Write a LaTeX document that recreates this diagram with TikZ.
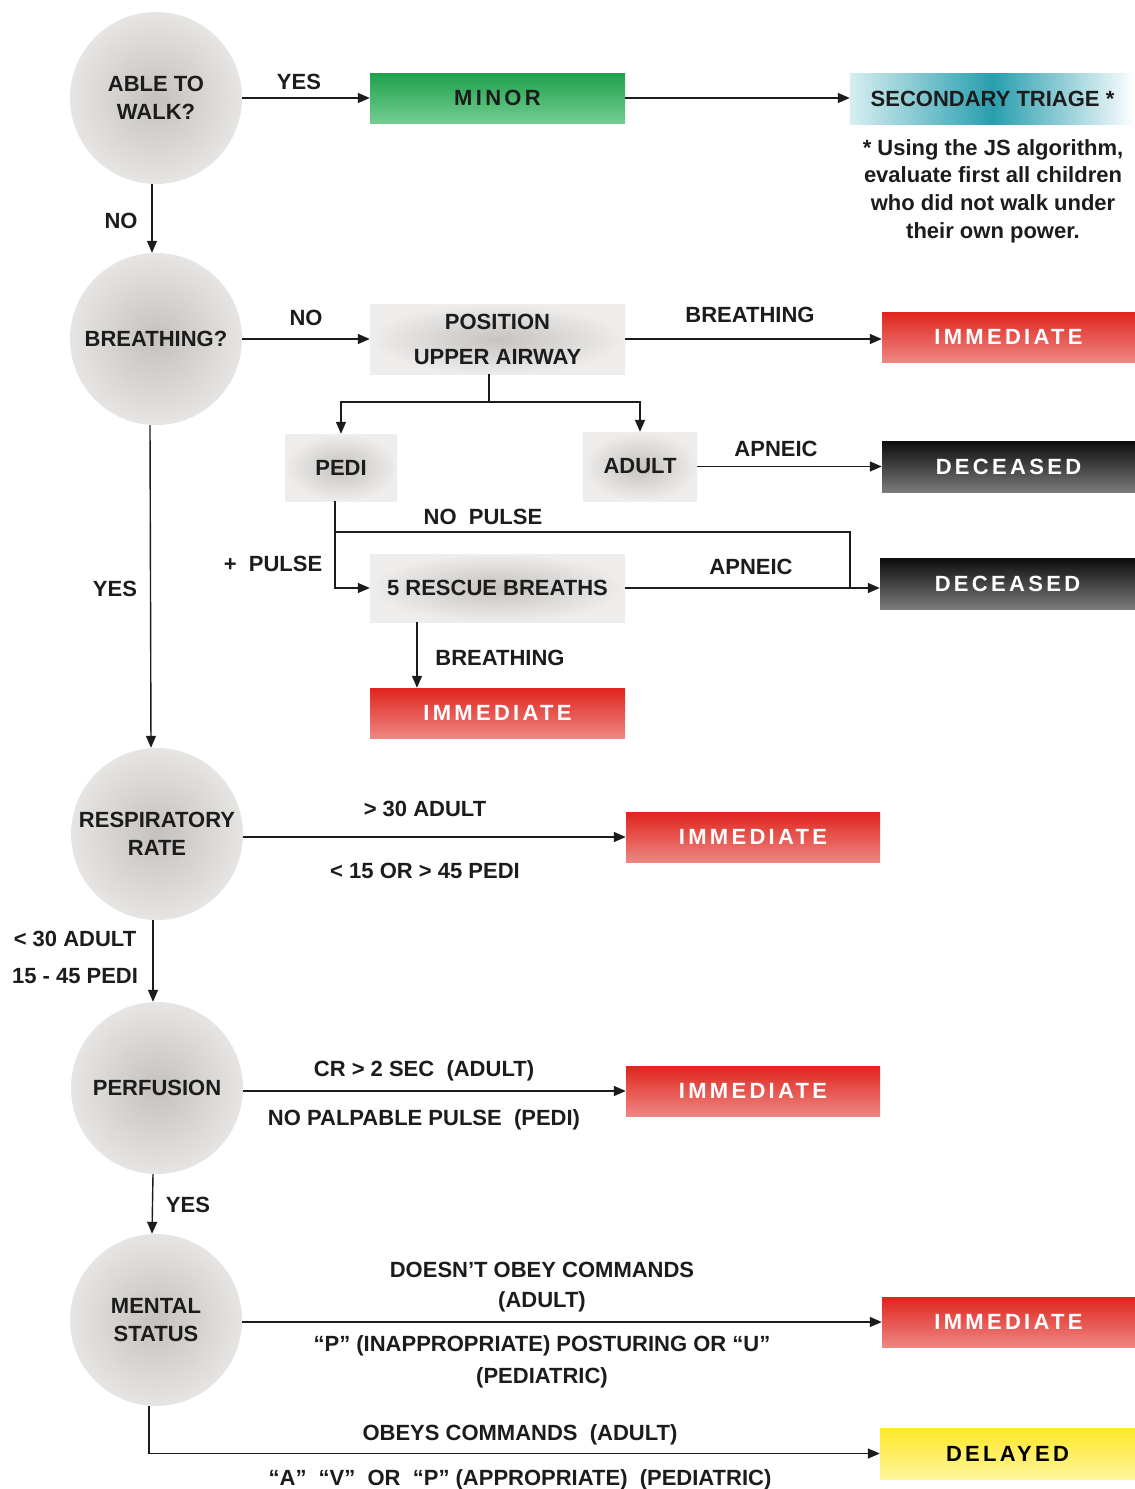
\documentclass[tikz,border=0pt]{standalone}
\usepackage{fontspec}
\setmainfont{Liberation Sans}
\newfontfamily\spacedfont{Liberation Sans}[LetterSpace=15]
\usetikzlibrary{arrows.meta}
\definecolor{txt}{HTML}{1C1C1C}
\definecolor{circin}{RGB}{196,193,190}
\definecolor{circout}{RGB}{231,229,227}
\definecolor{boxin}{RGB}{198,195,192}
\definecolor{boxout}{RGB}{238,237,236}
\definecolor{greentop}{RGB}{30,160,75}
\definecolor{greenbot}{RGB}{115,205,145}
\definecolor{redtop}{RGB}{224,36,30}
\definecolor{redbot}{RGB}{238,135,130}
\definecolor{blacktop}{RGB}{12,12,12}
\definecolor{blackbot}{RGB}{122,122,122}
\definecolor{yeltop}{RGB}{255,232,40}
\definecolor{yelbot}{RGB}{255,245,155}
\definecolor{tealmid}{RGB}{40,158,175}
\definecolor{tealside}{RGB}{215,238,241}
\begin{document}
\begin{tikzpicture}[x=1pt,y=-1pt,
  every node/.append style={text=txt, font=\fontsize{22}{27.5}\selectfont\bfseries},
  circnode/.style={circle, minimum size=172pt, inner sep=0pt, align=center,
    inner color=circin, outer color=circout},
  softbox/.style={rectangle, inner sep=0pt, align=center,
    inner color=boxin, outer color=boxout},
  tag/.style={rectangle, inner sep=0pt, minimum width=254pt, minimum height=50pt,
    font=\spacedfont\fontsize{22}{26}\selectfont\bfseries},
  immbox/.style={tag, top color=redtop, bottom color=redbot, text=white},
  deadbox/.style={tag, minimum height=51pt, top color=blacktop, bottom color=blackbot, text=white},
  minorbox/.style={tag, minimum width=255pt, top color=greentop, bottom color=greenbot},
  delaybox/.style={tag, minimum width=255pt, minimum height=51pt, top color=yeltop, bottom color=yelbot, text=black},
  secbox/.style={rectangle, inner sep=0pt, minimum width=285pt, minimum height=51pt,
    left color=tealside, right color=white, middle color=tealmid},
  notebox/.style={inner sep=0pt, align=center, font=\fontsize{22}{27.7}\selectfont\bfseries},
  lbl/.style={inner sep=0pt, text height=16pt, text depth=0pt},
  arr/.style={-{Triangle[length=12pt,width=10pt]}, line width=1.4pt, draw=txt},
  ln/.style={line width=1.4pt, draw=txt}]
\useasboundingbox (0,0) rectangle (1135,1489);

% decision circles
\node[circnode] (walk) at (156,98) {ABLE TO\\WALK?};
\node[circnode] (breath) at (156,339) {BREATHING?};
\node[circnode] (resp) at (157,834) {RESPIRATORY\\RATE};
\node[circnode] (perf) at (157,1088) {PERFUSION};
\node[circnode] (mental) at (156,1320) {MENTAL\\STATUS};

% boxes
\node[minorbox] (minor) at (497.5,98) {MINOR};
\node[secbox] (sec) at (992.5,98.5) {SECONDARY TRIAGE *};
\node[notebox] (note) at (993,191) {* Using the JS algorithm,\\evaluate first all children\\who did not walk under\\their own power.};
\node[softbox, minimum width=255pt, minimum height=70pt,
  font=\fontsize{22}{35}\selectfont\bfseries] (pos) at (497.5,339) {POSITION\\UPPER AIRWAY};
\node[immbox, minimum width=253pt] (imm1) at (1008.5,337) {IMMEDIATE};
\node[softbox, minimum width=112pt, minimum height=67pt] (pedi) at (341,467.5) {PEDI};
\node[softbox, minimum width=114pt, minimum height=69pt] (adult) at (640,466.5) {ADULT};
\node[deadbox, minimum width=253pt] (dec1) at (1008.5,466.5) {DECEASED};
\node[softbox, minimum width=255pt, minimum height=68pt] (rescue) at (497.5,588) {5 RESCUE BREATHS};
\node[deadbox, minimum width=255pt] (dec2) at (1007.5,583.5) {DECEASED};
\node[immbox, minimum width=255pt] (imm2) at (497.5,713) {IMMEDIATE};
\node[immbox] (imm3) at (753,837) {IMMEDIATE};
\node[immbox] (imm4) at (753,1091) {IMMEDIATE};
\node[immbox, minimum width=253pt] (imm5) at (1008.5,1322) {IMMEDIATE};
\node[delaybox] (delayed) at (1007.5,1453.5) {DELAYED};

% helper coordinates
\coordinate (split) at (489,402);
\coordinate (np) at (335,532);
\coordinate (npr) at (850,532);

% connectors
\draw[arr] (walk.east |- minor.west) -- (minor.west);
\draw[arr] (minor.east) -- (minor.east -| sec.west);
\draw[arr] ([xshift=-4pt]walk.south) -- ([xshift=-4pt]breath.north);
\draw[arr] (breath.east |- pos.west) -- (pos.west);
\draw[arr] (pos.east) -- (pos.east -| imm1.west);
\draw[ln] (pos.south -| split) -- (split);
\draw[arr] (split) -| (pedi.north);
\draw[arr] (split) -| (adult.north);
\draw[arr] (adult.east |- dec1.west) -- (dec1.west);
\draw[arr] ([xshift=-6pt]pedi.south) |- (rescue.west);
\draw[ln] (np) -| (npr |- rescue.east);
\draw[arr] (rescue.east) -- (rescue.east -| dec2.west);
\draw[arr] ([xshift=-80.5pt]rescue.south) -- ([xshift=-80.5pt]imm2.north);
\draw[arr] ([xshift=-6pt]breath.south) -- ([xshift=-6pt]resp.north);
\draw[arr] (resp.east |- imm3.west) -- (imm3.west);
\draw[arr] ([xshift=-4pt]resp.south) -- ([xshift=-4pt]perf.north);
\draw[arr] (perf.east |- imm4.west) -- (imm4.west);
\draw[arr] ([xshift=-4pt]perf.south) -- ([xshift=-4pt]mental.north);
\draw[arr] (mental.east |- imm5.west) -- (imm5.west);
\draw[arr] ([xshift=-7pt]mental.south) |- (delayed.west);

% connector labels
\node[lbl] (lyes1) at (299,81) {YES};
\node[lbl] (lno1) at (121,220) {NO};
\node[lbl] (lno2) at (306,317) {NO};
\node[lbl] (lbr1) at (750,314) {BREATHING};
\node[lbl] (lap1) at (776,448) {APNEIC};
\node[lbl] (lnp) at (483,516) {NO\ \ PULSE};
\node[lbl] (lpp) at (273,563) {+\ \ PULSE};
\node[lbl] (lap2) at (751,566) {APNEIC};
\node[lbl] (lbr2) at (500,657) {BREATHING};
\node[lbl] (lyes2) at (115,588) {YES};
\node[lbl] (lrr1) at (425,808) {> 30 ADULT};
\node[lbl] (lrr2) at (425,870) {< 15 OR > 45 PEDI};
\node[lbl] (lrr3) at (75,938) {< 30 ADULT};
\node[lbl] (lrr4) at (75,975) {15 - 45 PEDI};
\node[lbl] (lpf1) at (424,1068) {CR > 2 SEC\ \ (ADULT)};
\node[lbl] (lpf2) at (424,1117) {NO PALPABLE PULSE\ \ (PEDI)};
\node[lbl] (lyes3) at (188,1204) {YES};
\node[lbl] (lms1) at (542,1269) {DOESN’T OBEY COMMANDS};
\node[lbl] (lms2) at (542,1299) {(ADULT)};
\node[lbl] (lms3) at (542,1343) {“P” (INAPPROPRIATE) POSTURING OR “U”};
\node[lbl] (lms4) at (542,1375) {(PEDIATRIC)};
\node[lbl] (lms5) at (520,1432) {OBEYS COMMANDS\ \ (ADULT)};
\node[lbl] (lms6) at (520,1477) {“A”\ \ “V”\ \ OR\ \ “P” (APPROPRIATE)\ \ (PEDIATRIC)};
\end{tikzpicture}
\end{document}
